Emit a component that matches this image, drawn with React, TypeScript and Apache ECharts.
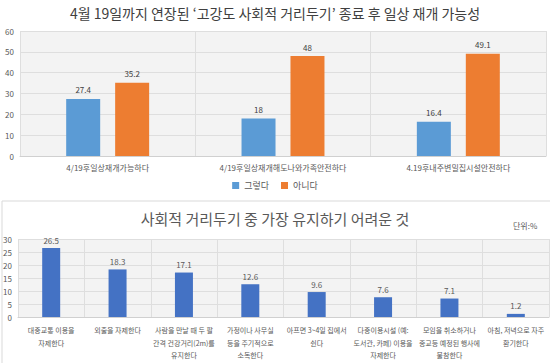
import React, { useEffect, useRef } from "react";
import * as echarts from "echarts";

const topTitle = "4월 19일까지 연장된 ‘고강도 사회적 거리두기’ 종료 후 일상 재개 가능성";
const topCategories = [
  "4/19후일상재개가능하다",
  "4/19후일상재개해도나와가족안전하다",
  "4.19후내주변밀집시설안전하다",
];
const yesValues = [27.4, 18, 16.4];
const noValues = [35.2, 48, 49.1];
const seriesNames = ["그렇다", "아니다"];

const bottomTitle = "사회적 거리두기 중 가장 유지하기 어려운 것";
const unitText = "단위:%";
const bottomCategories = [
  "대중교통 이용을\n자제한다",
  "외출을 자제한다",
  "사람을 만날 때 두 팔\n간격 건강거리(2m)를\n유지한다",
  "가정이나 사무실\n등을 주기적으로\n소독한다",
  "아프면 3~4일 집에서\n쉰다",
  "다중이용시설 (예:\n도서관, 카페) 이용을\n자제한다",
  "모임을 취소하거나\n종교등 예정된 행사에\n불참한다",
  "아침, 저녁으로 자주\n환기한다",
];
const bottomValues = [26.5, 18.3, 17.1, 12.6, 9.6, 7.6, 7.1, 1.2];

const FONT = "'Noto Sans CJK KR', 'Noto Sans', sans-serif";
const GRID_BG = "#f3f3f3";
const LINE = "#dedede";
const TXT = "#595959";

export default function App() {
  const ref = useRef<HTMLDivElement>(null);
  useEffect(() => {
    if (!ref.current) return;
    const chart = echarts.init(ref.current, undefined, { renderer: "svg" });
    chart.setOption({
      animation: false,
      backgroundColor: "#ffffff",
      textStyle: { fontFamily: FONT },
      title: [
        {
          text: topTitle,
          left: "center",
          top: 1,
          textStyle: { fontSize: 14, fontWeight: "normal", color: "#404040", fontFamily: FONT },
        },
        {
          text: bottomTitle,
          left: "center",
          top: 206,
          textStyle: { fontSize: 15, fontWeight: "normal", color: TXT, fontFamily: FONT },
        },
      ],
      graphic: [
        {
          type: "rect",
          shape: { x: 2, y: 201, width: 560, height: 200 },
          style: { fill: "none", stroke: "#d9d9d9", lineWidth: 1 },
          z: -1,
        },
        {
          type: "text",
          x: 513,
          y: 221,
          style: { text: unitText, fontSize: 8, fill: TXT, fontFamily: FONT },
        },
      ],
      legend: {
        data: seriesNames,
        left: "center",
        top: 176,
        itemWidth: 7,
        itemHeight: 7,
        itemGap: 12,
        icon: "rect",
        textStyle: { fontSize: 9, color: TXT, fontFamily: FONT },
      },
      grid: [
        {
          left: 20,
          right: 4,
          top: 31,
          bottom: 207,
          show: true,
          backgroundColor: GRID_BG,
          borderWidth: 0,
        },
        {
          left: 18,
          right: 1,
          top: 239,
          bottom: 46,
          show: true,
          backgroundColor: GRID_BG,
          borderWidth: 0,
        },
      ],
      xAxis: [
        {
          gridIndex: 0,
          type: "category",
          data: topCategories,
          axisLine: { show: true, lineStyle: { color: "#d0d0d0" } },
          axisTick: { show: false },
          splitLine: { show: true, lineStyle: { color: LINE } },
          axisLabel: { fontSize: 8, color: TXT, margin: 7, fontFamily: FONT },
        },
        {
          gridIndex: 1,
          type: "category",
          data: bottomCategories,
          axisLine: { show: true, lineStyle: { color: "#d0d0d0" } },
          axisTick: { show: false },
          splitLine: { show: true, lineStyle: { color: LINE } },
          axisLabel: {
            fontSize: 7,
            color: TXT,
            margin: 7,
            lineHeight: 12.5,
            interval: 0,
            fontFamily: FONT,
          },
        },
      ],
      yAxis: [
        {
          gridIndex: 0,
          type: "value",
          min: 0,
          max: 60,
          interval: 10,
          axisLine: { show: false },
          axisTick: { show: false },
          splitLine: { show: true, lineStyle: { color: LINE } },
          axisLabel: { fontSize: 8, color: TXT, margin: 6, fontFamily: FONT },
        },
        {
          gridIndex: 1,
          type: "value",
          min: 0,
          max: 30,
          interval: 5,
          axisLine: { show: false },
          axisTick: { show: false },
          splitLine: { show: true, lineStyle: { color: LINE } },
          axisLabel: { fontSize: 8, color: TXT, margin: 6, fontFamily: FONT },
        },
      ],
      series: [
        {
          name: seriesNames[0],
          type: "bar",
          xAxisIndex: 0,
          yAxisIndex: 0,
          data: yesValues,
          barWidth: 34,
          barGap: "44%",
          itemStyle: { color: "#5B9BD5" },
          label: { show: true, position: "top", fontSize: 8, color: "#404040", distance: 5 },
        },
        {
          name: seriesNames[1],
          type: "bar",
          xAxisIndex: 0,
          yAxisIndex: 0,
          data: noValues,
          barWidth: 34,
          barGap: "44%",
          itemStyle: { color: "#ED7D31" },
          label: { show: true, position: "top", fontSize: 8, color: "#404040", distance: 5 },
        },
        {
          name: "bottom",
          type: "bar",
          xAxisIndex: 1,
          yAxisIndex: 1,
          data: bottomValues,
          barWidth: 18,
          itemStyle: { color: "#4472C4" },
          label: { show: true, position: "top", fontSize: 8, color: TXT, distance: 4 },
        },
      ],
    });
    return () => chart.dispose();
  }, []);
  return (
    <div
      ref={ref}
      style={{ position: "fixed", left: 0, top: 0, width: 550, height: 363 }}
    />
  );
}
